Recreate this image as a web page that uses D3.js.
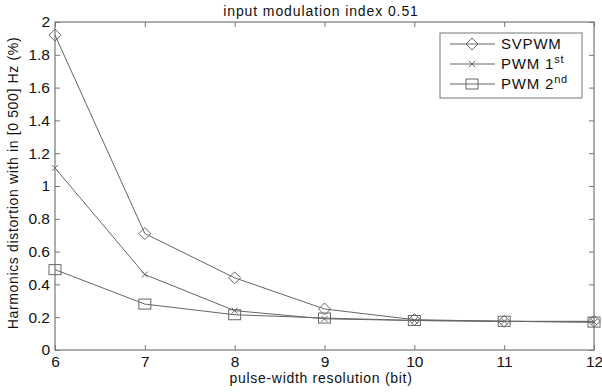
<!DOCTYPE html>
<html>
<head>
<meta charset="utf-8">
<script src="https://cdn.jsdelivr.net/npm/d3@7"></script>
<style>
  body { margin: 0; background: #fff; }
  text { font-family: "Liberation Sans", Arial, sans-serif; fill: #111; letter-spacing: 0.8px; }
</style>
</head>
<body>
<svg id="chart" width="602" height="392"></svg>
<script>
// data
var bits = [6, 7, 8, 9, 10, 11, 12];
var svpwm = [1.92, 0.71, 0.44, 0.25, 0.185, 0.175, 0.175];
var pwm1 = [1.11, 0.46, 0.24, 0.19, 0.18, 0.175, 0.17];
var pwm2 = [0.49, 0.28, 0.215, 0.195, 0.18, 0.175, 0.17];
var yTicks = [0, 0.2, 0.4, 0.6, 0.8, 1, 1.2, 1.4, 1.6, 1.8, 2];

var svg = d3.select("#chart");
var plotL = 55, plotR = 594, plotT = 22, plotB = 350;
var axisCol = "#777", lineCol = "#666";

var x = d3.scaleLinear().domain([6, 12]).range([plotL, plotR]);
var y = d3.scaleLinear().domain([0, 2]).range([plotB, plotT]);

// frame
svg.append("rect")
    .attr("x", plotL).attr("y", plotT)
    .attr("width", plotR - plotL).attr("height", plotB - plotT)
    .attr("fill", "none").attr("stroke", axisCol).attr("stroke-width", 1.2);

// axes with inward ticks
var xAxis = svg.append("g").attr("transform", "translate(0," + plotB + ")")
    .call(d3.axisBottom(x).tickValues(bits).tickSize(-5).tickPadding(6).tickFormat(d3.format("d")));
var xTop = svg.append("g").attr("transform", "translate(0," + plotT + ")")
    .call(d3.axisTop(x).tickValues(bits).tickSize(-5).tickFormat(""));
var yAxis = svg.append("g").attr("transform", "translate(" + plotL + ",0)")
    .call(d3.axisLeft(y).tickValues(yTicks).tickSize(-5).tickPadding(5).tickFormat(d3.format("~g")));
var yRight = svg.append("g").attr("transform", "translate(" + plotR + ",0)")
    .call(d3.axisRight(y).tickValues(yTicks).tickSize(-5).tickFormat(""));

[xAxis, xTop, yAxis, yRight].forEach(function (g) {
    g.select(".domain").remove();
    g.selectAll(".tick line").attr("stroke", axisCol);
    g.selectAll("text").attr("font-size", 15.5).style("letter-spacing", "0px")
        .attr("font-family", "Liberation Sans, Arial, sans-serif").attr("fill", "#111");
});

// titles
svg.append("text").attr("x", 321).attr("y", 16).attr("text-anchor", "middle")
    .attr("font-size", 14).style("letter-spacing", "0.9px").text("input modulation index 0.51");
svg.append("text").attr("x", 321).attr("y", 383).attr("text-anchor", "middle")
    .attr("font-size", 14).style("letter-spacing", "0.7px").text("pulse-width resolution (bit)");
svg.append("text").attr("transform", "translate(18,183) rotate(-90)").attr("text-anchor", "middle")
    .attr("font-size", 14).style("letter-spacing", "0.65px").text("Harmonics distortion with in [0 500] Hz (%)");

var line = d3.line().x(function (d, i) { return x(bits[i]); }).y(function (d) { return y(d); });

function marker(g, type, cx, cy) {
    if (type == "diamond") {
        g.append("path").attr("d", "M" + cx + "," + (cy - 6) + "L" + (cx + 6) + "," + cy + "L" + cx + "," + (cy + 6) + "L" + (cx - 6) + "," + cy + "Z")
            .attr("fill", "none").attr("stroke", lineCol);
    } else if (type == "x") {
        g.append("path").attr("d", "M" + (cx - 3) + "," + (cy - 3) + "L" + (cx + 3) + "," + (cy + 3) + "M" + (cx - 3) + "," + (cy + 3) + "L" + (cx + 3) + "," + (cy - 3))
            .attr("fill", "none").attr("stroke", lineCol);
    } else {
        g.append("rect").attr("x", cx - 6).attr("y", cy - 5).attr("width", 12).attr("height", 10)
            .attr("fill", "none").attr("stroke", lineCol);
    }
}

var series = [
    { name: "SVPWM", sup: "", vals: svpwm, m: "diamond" },
    { name: "PWM 1", sup: "st", vals: pwm1, m: "x" },
    { name: "PWM 2", sup: "nd", vals: pwm2, m: "square" }
];

series.forEach(function (s) {
    var g = svg.append("g");
    g.append("path").datum(s.vals).attr("d", line)
        .attr("fill", "none").attr("stroke", lineCol).attr("stroke-width", 1);
    s.vals.forEach(function (v, i) { marker(g, s.m, x(bits[i]), y(v)); });
});

// legend
var lg = svg.append("g");
lg.append("rect").attr("x", 440).attr("y", 33).attr("width", 142).attr("height", 65)
    .attr("fill", "#fff").attr("stroke", axisCol);
series.forEach(function (s, i) {
    var ly = 44 + i * 20;
    lg.append("line").attr("x1", 450).attr("x2", 495).attr("y1", ly).attr("y2", ly).attr("stroke", lineCol);
    marker(lg, s.m, 472, ly);
    var t = lg.append("text").attr("x", 501).attr("y", ly + 5).attr("font-size", 15).text(s.name);
    if (s.sup) t.append("tspan").attr("dy", -6).attr("font-size", 11).text(s.sup);
});
</script>
</body>
</html>
